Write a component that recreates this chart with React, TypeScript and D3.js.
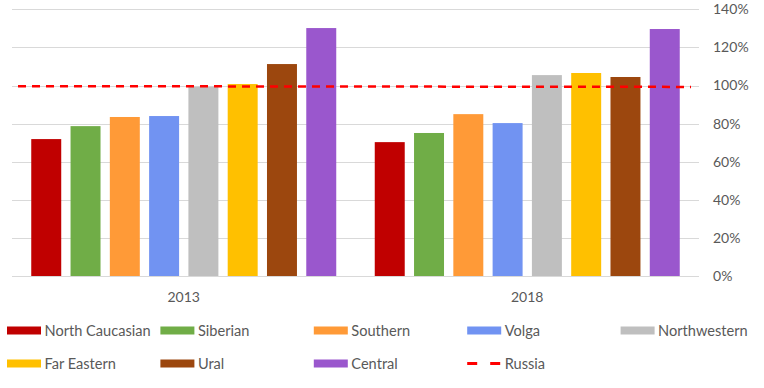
import React, { useEffect } from 'react';
import * as d3 from 'd3';

const regions = ['North Caucasian', 'Siberian', 'Southern', 'Volga', 'Northwestern', 'Far Eastern', 'Ural', 'Central'];
const years = ['2013', '2018'];
const values2013 = [71.9, 78.7, 83.5, 84.0, 99.4, 100.8, 111.3, 130.2];
const values2018 = [70.3, 75.1, 85.0, 80.3, 105.5, 106.6, 104.5, 129.7];
const russia = [99.7, 99.3];
const yTicks = [0, 20, 40, 60, 80, 100, 120, 140];
const colors = ['#C00000', '#70AD47', '#FF9A37', '#7193F2', '#BFBFBF', '#FFC000', '#9C470E', '#9A57CD'];

const width = 764;
const height = 388;
const plotLeft = 12;
const plotRight = 699;
const plotTop = 9.4;
const plotBottom = 276;
const textColor = '#595959';
const font = 'Lato, "Open Sans", sans-serif';

const App: React.FC = () => {
  useEffect(() => {
    document.body.style.margin = '0';
  }, []);

  const byYear: Record<string, number[]> = { '2013': values2013, '2018': values2018 };

  const x = d3.scaleBand<string>().domain(years).range([plotLeft, plotRight]).padding(0);
  const xInner = d3.scaleBand<string>().domain(regions)
    .range([0, x.bandwidth()])
    .paddingInner(0.237)
    .paddingOuter(0.49);
  const y = d3.scaleLinear().domain([0, 140]).range([plotBottom, plotTop]);

  // russia line runs nearly the full width of the plot
  const xLine = d3.scaleLinear().domain([0, 1]).range([(x('2013') ?? 0) + 6, (x('2018') ?? 0) + x.bandwidth() - 8]);
  const line = d3.line<number>().x((_, i) => xLine(i)).y(d => y(d));

  // legend: 5 columns, 2 rows
  const legendItems = [...regions.map((r, i) => ({ name: r, color: colors[i], dashed: false })),
    { name: 'Russia', color: '#FF0000', dashed: true }];
  const colX = (i: number) => 7 + (i % 5) * 153.4;
  const rowY = (i: number) => 330.5 + Math.floor(i / 5) * 33;

  return (
    <svg width={width} height={height} style={{ display: 'block' }} fontFamily={font}>
      {yTicks.map(t => (
        <g key={t}>
          <line x1={plotLeft} x2={plotRight} y1={Math.round(y(t)) + 0.5} y2={Math.round(y(t)) + 0.5}
            stroke="#D9D9D9" strokeWidth={1} />
          <text x={713} y={y(t)} dy="0.35em" fontSize={14} fill={textColor}>{t}%</text>
        </g>
      ))}
      {years.map(yr => (
        <g key={yr} transform={`translate(${x(yr)},0)`}>
          {regions.map((r, i) => {
            const v = byYear[yr][i];
            return (
              <rect key={r} x={xInner(r)} y={y(v)} width={xInner.bandwidth()} height={y(0) - y(v)}
                fill={colors[i]} />
            );
          })}
          <text x={x.bandwidth() / 2} y={297.5} dy="0.35em" textAnchor="middle" fontSize={14} fill={textColor}>{yr}</text>
        </g>
      ))}
      <path d={line(russia) ?? ''} fill="none" stroke="#FF0000" strokeWidth={2.5} strokeDasharray="8,6" />
      {legendItems.map((it, i) => (
        <g key={it.name} transform={`translate(${colX(i)},${rowY(i)})`}>
          {it.dashed
            ? <line x1={0} x2={34} y1={0} y2={0} stroke={it.color} strokeWidth={3} strokeDasharray="10,13" />
            : <rect x={0} y={-4} width={34} height={8} fill={it.color} />}
          <text x={37.5} y={0} dy="0.35em" fontSize={14.6} fill={textColor}>{it.name}</text>
        </g>
      ))}
    </svg>
  );
};

export default App;
